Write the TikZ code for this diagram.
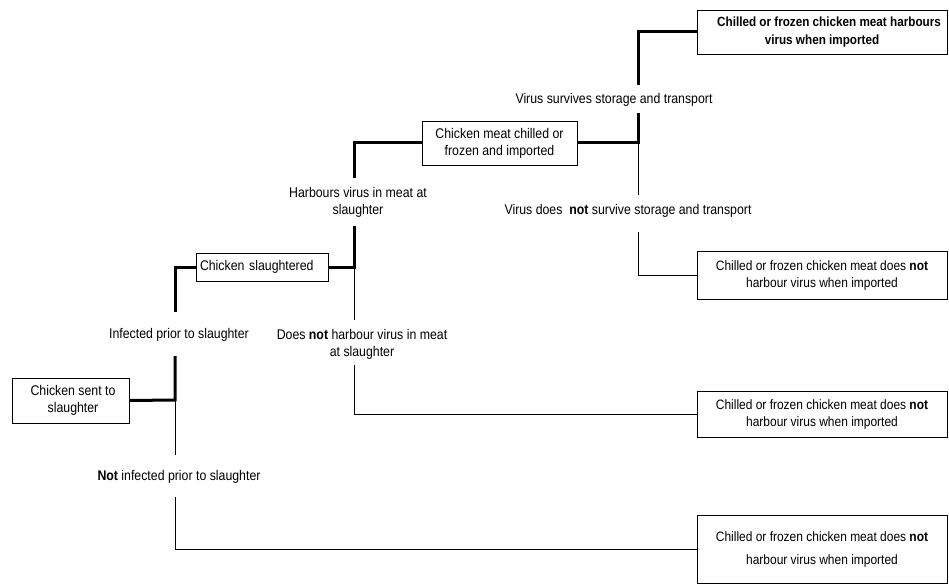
\documentclass[tikz,border=0pt]{standalone}
\usepackage{fontspec}
\setmainfont{Liberation Sans}[FakeStretch=0.88]
\begin{document}
\begin{tikzpicture}[x=1pt,y=-1pt,
  every node/.style={font=\fontsize{14}{17}\selectfont},
  box/.style={draw, line width=0.9pt, align=center, inner sep=0pt},
  endbox/.style={box, minimum width=250pt, font=\fontsize{13.6}{17}\selectfont},
  lbl/.style={align=center, inner sep=0pt},
  thickline/.style={line width=3pt},
  thinline/.style={line width=0.9pt}]
\useasboundingbox (0,0) rectangle (949,585);

% boxes
\node[box, minimum width=117pt, minimum height=45pt] (b1) at (70.5,400.5) {\hspace*{5pt}Chicken sent to\\\hspace*{5pt}slaughter};
\node[box, text width=124pt, inner xsep=4pt, align=left, minimum height=28pt] (b2) at (262,267) {Chicken slaughtered};
\node[box, minimum width=155pt, minimum height=44pt] (b3) at (499.5,143) {Chicken meat chilled or\\frozen and imported};
\node[endbox, minimum height=44pt, font=\fontsize{13.3}{18}\selectfont\bfseries] (b4) at (822,32) {\hspace*{14pt}Chilled or frozen chicken meat harbours\\virus when imported};
\node[endbox, minimum height=48pt] (b5) at (822,275) {Chilled or frozen chicken meat does \textbf{not}\\harbour virus when imported};
\node[endbox, minimum height=46pt] (b6) at (822,414) {Chilled or frozen chicken meat does \textbf{not}\\harbour virus when imported};
\node[endbox, minimum height=68pt, font=\fontsize{13.6}{23}\selectfont] (b7) at (822,549) {Chilled or frozen chicken meat does \textbf{not}\\harbour virus when imported};

% labels
\node[lbl] (l1) at (179,335) {Infected prior to slaughter};
\node[lbl] (l2) at (179,477) {\textbf{Not} infected prior to slaughter};
\node[lbl] (l3) at (358,202) {Harbours virus in meat at\\slaughter};
\node[lbl] (l4) at (362,344) {Does \textbf{not} harbour virus in meat\\at slaughter};
\node[lbl] (l5) at (614,100) {Virus survives storage and transport};
\node[lbl] (l6) at (628,211) {Virus does\ \ \textbf{not} survive storage and transport};

% junctions and line ends
\coordinate (j1) at (175,400);
\coordinate (a1) at (175,356);
\coordinate (a2) at (175,455);
\coordinate (a3) at (175,312);
\coordinate (a4) at (175,497);
\coordinate (j2) at (354,267);
\coordinate (c1) at (354,226);
\coordinate (c2) at (354,320);
\coordinate (c3) at (354,178);
\coordinate (c4) at (354,365);
\coordinate (j3) at (638,143);
\coordinate (d1) at (638,113);
\coordinate (d2) at (638,195);
\coordinate (d3) at (638,85);
\coordinate (d4) at (638,232);

% connectors
\draw[thickline] (b1.east) -- (j1) -- (a1);
\draw[thinline] (j1) -- (a2);
\draw[thickline] (a3) |- (b2.west);
\draw[thinline] (a4) |- (b7.west);

\draw[thickline] (b2.east) -- (j2) -- (c1);
\draw[thinline] (j2) -- (c2);
\draw[thickline] (c3) |- (b3.west);
\draw[thinline] (c4) |- (b6.west);

\draw[thickline] (b3.east) -- (j3) -- (d1);
\draw[thinline] (j3) -- (d2);
\draw[thickline] (d3) |- (b4.west);
\draw[thinline] (d4) |- (b5.west);
\end{tikzpicture}
\end{document}
